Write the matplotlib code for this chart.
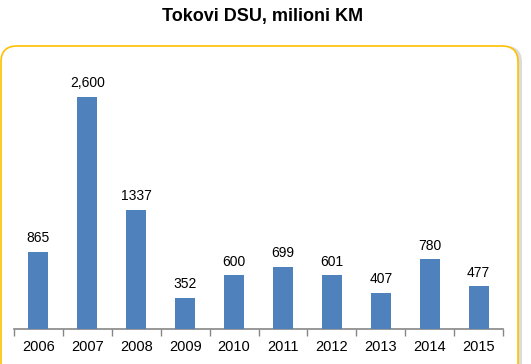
import matplotlib
matplotlib.use("Agg")
import matplotlib.pyplot as plt
from matplotlib.patches import FancyBboxPatch
from matplotlib.transforms import IdentityTransform

years = ["2006", "2007", "2008", "2009", "2010", "2011", "2012", "2013", "2014", "2015"]
values = [865, 2600, 1337, 352, 600, 699, 601, 407, 780, 477]
labels = ["865", "2,600", "1337", "352", "600", "699", "601", "407", "780", "477"]

W, H = 531, 364
fig = plt.figure(figsize=(W / 100, H / 100), dpi=100)
plt.rcParams['font.family'] = ['Liberation Sans', 'DejaVu Sans']

# rounded frame with shadow (pixel coordinates)
shadow = FancyBboxPatch((4, -30), 518, 348,
                        boxstyle="round,pad=0,rounding_size=16",
                        transform=IdentityTransform(), facecolor="#dcdcdc",
                        edgecolor="none", zorder=-2)
fig.patches.append(shadow)
frame = FancyBboxPatch((1, -30), 517, 348,
                       boxstyle="round,pad=0,rounding_size=16",
                       transform=IdentityTransform(), facecolor="white",
                       edgecolor="#FFC000", linewidth=1.2, zorder=-1)
fig.patches.append(frame)

fig.text(263 / W, 1 - 17 / H, "Tokovi DSU, milioni KM", ha="center", va="center",
         fontsize=13, fontweight="bold")

ax = fig.add_axes([14 / W, 35 / H, 489 / W, 268 / H])
ax.set_facecolor("none")
x = list(range(len(years)))
ax.bar(x, values, width=0.41, color="#4F81BD", zorder=3)
for xi, v, lab in zip(x, values, labels):
    ax.text(xi, v + 70, lab, ha="center", va="bottom", fontsize=10, color="black")

ax.set_xlim(-0.5, len(years) - 0.5)
ax.set_ylim(0, 3000)
ax.set_yticks([])
for s in ["top", "right", "left"]:
    ax.spines[s].set_visible(False)
ax.spines["bottom"].set_color("#868686")
ax.spines["bottom"].set_linewidth(1.2)
ax.set_xticks([i - 0.5 for i in range(len(years) + 1)], minor=False)
ax.set_xticklabels([])
ax.tick_params(axis="x", which="major", length=5, color="#868686", width=1)
ax.set_xticks(x, minor=True)
ax.set_xticklabels(years, minor=True, fontsize=10.5)
ax.tick_params(axis="x", which="minor", length=0, pad=8)

fig.savefig("out.png", dpi=100)
